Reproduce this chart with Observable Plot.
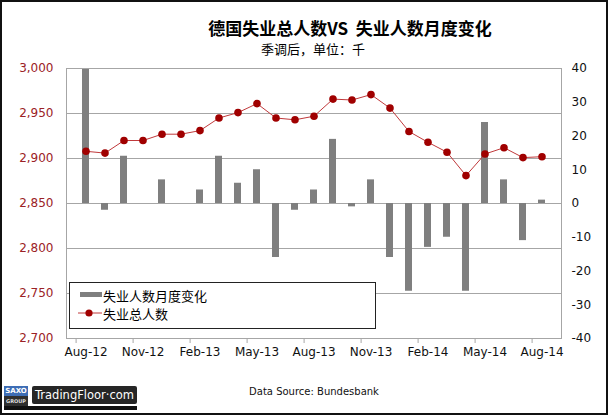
<!DOCTYPE html>
<html>
<head>
<meta charset="utf-8">
<script src="https://cdn.jsdelivr.net/npm/d3@7"></script>
<script src="https://cdn.jsdelivr.net/npm/@observablehq/plot@0.6"></script>
<style>
  html, body { margin: 0; padding: 0; background: #fff; }
  #wrap { position: relative; width: 608px; height: 415px; overflow: hidden; background: #fff; font-family: "DejaVu Sans", sans-serif; }
  #border { position: absolute; left: 0; top: 0; width: 608px; height: 415px; box-sizing: border-box; border: 2px solid #111; pointer-events: none; z-index: 10; }
  .abs { position: absolute; white-space: nowrap; }
  #title { left: 350px; top: 27px; transform: translate(-50%, -50%); font-family: "Noto Sans CJK SC", sans-serif; font-weight: bold; font-size: 17px; line-height: 1; color: #000; }
  #subtitle { left: 313px; top: 48px; transform: translate(-50%, -50%); font-family: "Noto Sans CJK SC", sans-serif; font-size: 13px; line-height: 1; color: #000; }
  #chart { left: 0; top: 58px; }
  #legend { left: 69px; top: 282px; width: 307px; height: 47px; box-sizing: border-box; border: 1px solid #222; background: #fff; z-index: 5; }
  .lg-text { position: absolute; left: 33px; font-family: "Noto Sans CJK SC", sans-serif; font-size: 13px; line-height: 1; color: #000; transform: translateY(-50%); }
  #source { left: 314px; top: 392px; transform: translate(-50%, -50%); font-family: "DejaVu Sans", sans-serif; font-size: 10px; line-height: 1; color: #111; }
  #saxo { left: 4px; top: 386px; width: 24px; height: 20px; background: #2f2f2f; }
  #saxo .s1 { position: absolute; left: 0; top: 0; width: 24px; height: 10px; background: #3d6db5; color: #fff; font: bold 7px "DejaVu Sans", sans-serif; text-align: center; line-height: 10px; }
  #saxo .s2 { position: absolute; left: 0; top: 10px; width: 24px; height: 10px; color: #ddd; font: bold 5px "DejaVu Sans", sans-serif; text-align: center; line-height: 10px; }
  #tf { left: 32px; top: 386px; width: 105px; height: 18px; background: #262626; border-radius: 2px; color: #fff; font: 11.5px "DejaVu Sans", sans-serif; text-align: center; line-height: 18px; }
  #strip { left: 4px; top: 406px; width: 133px; height: 4px; background: #111; }
</style>
</head>
<body>
<div id="wrap">
  <div id="title" class="abs">德国失业总人数VS&nbsp; 失业人数月度变化</div>
  <div id="subtitle" class="abs">季调后，单位：千</div>
  <div id="chart" class="abs"></div>
  <div id="legend" class="abs">
    <svg width="305" height="45" style="position:absolute;left:0;top:0">
      <rect x="10" y="9" width="22" height="5" fill="#7f7f7f"></rect>
      <line x1="8" x2="32" y1="30" y2="30" stroke="#c0393b" stroke-width="1"></line>
      <circle cx="19" cy="30" r="3.6" fill="#a00000"></circle>
    </svg>
    <div class="lg-text" style="top:12px">失业人数月度变化</div>
    <div class="lg-text" style="top:30px">失业总人数</div>
  </div>
  <div id="source" class="abs">Data Source: Bundesbank</div>
  <div id="saxo" class="abs"><div class="s1">SAXO</div><div class="s2">GROUP</div></div>
  <div id="tf" class="abs">TradingFloor·com</div>
  <div id="strip" class="abs"></div>
  <div id="border"></div>
</div>
<script>
// Monthly categories (Aug-12 .. Aug-14)
const months = ["Aug-12","Sep-12","Oct-12","Nov-12","Dec-12","Jan-13","Feb-13","Mar-13","Apr-13","May-13","Jun-13","Jul-13",
                "Aug-13","Sep-13","Oct-13","Nov-13","Dec-13","Jan-14","Feb-14","Mar-14","Apr-14","May-14","Jun-14","Jul-14","Aug-14"];
// 失业总人数 (thousands, left axis)
const totals = [2908, 2906, 2920, 2920, 2927, 2927, 2931, 2945, 2951, 2961, 2945, 2943,
                2947, 2966, 2965, 2971, 2956, 2930, 2918, 2907, 2881, 2905, 2912, 2901, 2902];
// 失业人数月度变化 (thousands, right axis)
const changes = [40, -2, 14, 0, 7, 0, 4, 14, 6, 10, -16, -2,
                 4, 19, -1, 7, -16, -26, -13, -10, -26, 24, 7, -11, 1];
// Tick labels
const xTickLabels = ["Aug-12","Nov-12","Feb-13","May-13","Aug-13","Nov-13","Feb-14","May-14","Aug-14"];
const leftTicks = [2700, 2750, 2800, 2850, 2900, 2950, 3000];
const rightTicks = [-40, -30, -20, -10, 0, 10, 20, 30, 40];

// Left axis value -> right-axis units (both share zero at 2850 / 0)
const leftBase = 2850, leftPerRight = 3.75;
const toRight = v => (v - leftBase) / leftPerRight;

const data = months.map((m, i) => ({month: m, total: totals[i], change: changes[i]}));

const width = 608, height = 310;
const marginLeft = 66, marginRight = 47, marginTop = 10, marginBottom = 30;
const step = (width - marginLeft - marginRight) / months.length;

const chart = Plot.plot({
  width, height, marginLeft, marginRight, marginTop, marginBottom,
  style: {fontFamily: "DejaVu Sans, sans-serif", fontSize: "12px", background: "transparent", overflow: "visible"},
  x: {type: "band", domain: months, paddingInner: 0.62, paddingOuter: 0.31, axis: null, label: null},
  y: {domain: [-40, 40], axis: null, label: null},
  marks: [
    Plot.ruleY(leftTicks.slice(1, -1).map(toRight), {stroke: "#a6a6a6", strokeWidth: 1}),
    Plot.barY(data, {x: "month", y: "change", fill: "#7f7f7f", clip: true}),
    Plot.frame({stroke: "#a6a6a6", strokeWidth: 1}),
    Plot.line(data, {x: "month", y: d => toRight(d.total), stroke: "#c0393b", strokeWidth: 1}),
    Plot.dot(data, {x: "month", y: d => toRight(d.total), r: 3.8, fill: "#a00000", stroke: "none"}),
    Plot.axisY({anchor: "left", label: null, ticks: leftTicks.map(toRight),
      tickFormat: d => d3.format(",")(Math.round(leftBase + d * leftPerRight)),
      tickSize: 0, tickPadding: 13, fill: "#9b2226", fontSize: 12}),
    Plot.axisY({anchor: "right", label: null, ticks: rightTicks, tickFormat: d => String(d),
      tickSize: 0, tickPadding: 10, fill: "#111", fontSize: 12}),
    Plot.axisX({label: null, ticks: xTickLabels, tickSize: 0, tickPadding: 9, fill: "#111", fontSize: 12}),
    Plot.axisX({label: null, ticks: xTickLabels, tickSize: 5, tickFormat: () => "", stroke: "#a6a6a6", dx: -step / 2})
  ]
});
document.getElementById("chart").appendChild(chart);
</script>
</body>
</html>
